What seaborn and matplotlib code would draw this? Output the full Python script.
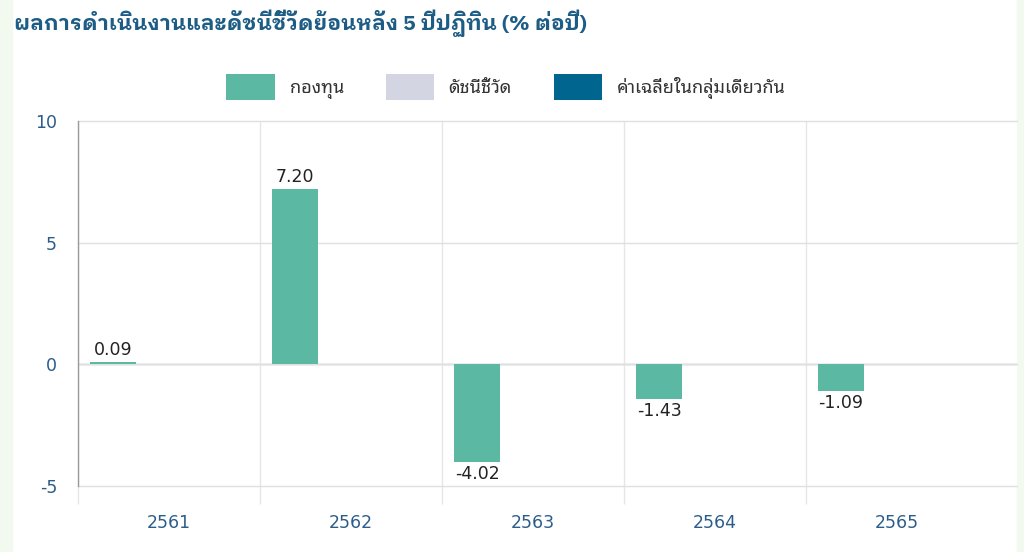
import matplotlib
matplotlib.use("Agg")
import numpy as np
import pandas as pd
import matplotlib.pyplot as plt
import seaborn as sns
from matplotlib.patches import Patch, Rectangle

# Data
years = ["2561", "2562", "2563", "2564", "2565"]
fund_returns = [0.09, 7.20, -4.02, -1.43, -1.09]
index_returns = [np.nan] * 5   # no benchmark values shown
peer_returns = [np.nan] * 5    # no peer-average values shown
series_names = ["กองทุน", "ดัชนีชี้วัด", "ค่าเฉลี่ยในกลุ่มเดียวกัน"]
series_colors = ["#5bb8a3", "#d3d6e2", "#00668f"]
y_ticks = [-5, 0, 5, 10]

TITLE = "ผลการดำเนินงานและดัชนีชี้วัดย้อนหลัง 5 ปีปฏิทิน (% ต่อปี)"
TEXT_FONTS = ["Noto Sans Thai Looped", "Noto Sans Thai", "DejaVu Sans"]
NUM_FONT = ["DejaVu Sans"]

sns.set_theme(style="white")
plt.rcParams["font.family"] = TEXT_FONTS
plt.rcParams["axes.unicode_minus"] = False

df = pd.concat([
    pd.DataFrame({"year": years, "series": name, "value": vals})
    for name, vals in zip(series_names, [fund_returns, index_returns, peer_returns])
], ignore_index=True)

fig = plt.figure(figsize=(10.24, 5.52), dpi=100)
ax = fig.add_axes([78 / 1024, 1 - 486 / 552, (1017 - 78) / 1024, (486 - 121) / 552])

sns.barplot(
    data=df, x="year", y="value", hue="series", hue_order=series_names,
    order=years, palette=dict(zip(series_names, series_colors)),
    width=0.9225, gap=0.177, errorbar=None, legend=False, ax=ax,
    saturation=1, linewidth=0,
)

for cont in ax.containers:
    vals = cont.datavalues
    labels = ["" if np.isnan(v) else f"{v:.2f}" for v in vals]
    ax.bar_label(cont, labels=labels, padding=2, fontsize=12.5, color="#222222",
                 family=NUM_FONT)

# axes styling
ax.set_ylim(-5, 10)
ax.set_yticks(y_ticks)
ax.set_xlim(-0.5, -0.5 + (1017 - 78) / 182)
ax.set_xlabel("")
ax.set_ylabel("")
for s in ["top", "right", "bottom"]:
    ax.spines[s].set_visible(False)
ax.spines["left"].set_color("#9a9a9a")
ax.spines["left"].set_linewidth(1)

ax.yaxis.grid(True, color="#e0e0e0", linewidth=1)
for gl in ax.yaxis.get_gridlines():
    gl.set_clip_on(False)
ax.axhline(0, color="#b0b0b0", linewidth=1, zorder=0.5)
ax.set_axisbelow(True)
ax.tick_params(axis="y", length=15, width=1, color="#e0e0e0", pad=0,
               labelsize=12.5, labelcolor="#2c5d8a")

# category boundaries as minor ticks
ax.set_xticks(np.arange(len(years)) - 0.5, minor=True)
ax.xaxis.grid(True, which="minor", color="#e6e6e6", linewidth=1)
ax.tick_params(axis="x", which="minor", length=13, width=1, color="#e6e6e6", bottom=True)
ax.tick_params(axis="x", which="major", length=0, pad=20, labelsize=12.5, labelcolor="#2c5d8a")
for lab in ax.get_xticklabels() + ax.get_yticklabels():
    lab.set_family(NUM_FONT)

# side strips
fig.patches.append(Rectangle((0, 0), 12 / 1024, 1, transform=fig.transFigure,
                             color="#f2f9ee", zorder=-1))
fig.patches.append(Rectangle((1017 / 1024, 0), 7 / 1024, 1, transform=fig.transFigure,
                             color="#f2f9ee", zorder=-1))

fig.text(14 / 1024, 1 - 9 / 552, TITLE, fontsize=15.3, fontweight="bold",
         color="#1d5d85", ha="left", va="top",
         family=["IBM Plex Sans Thai Looped", "Sarabun", "DejaVu Sans"])

handles = [Patch(facecolor=c, edgecolor="none") for c in series_colors]
fig.legend(handles, series_names, loc="center", bbox_to_anchor=(506 / 1024, 1 - 87 / 552),
           ncol=3, frameon=False, fontsize=13, handlelength=2.7, handleheight=1.9,
           handletextpad=0.8, columnspacing=2.3, labelcolor="#333333")

fig.savefig("out.png", dpi=100)
